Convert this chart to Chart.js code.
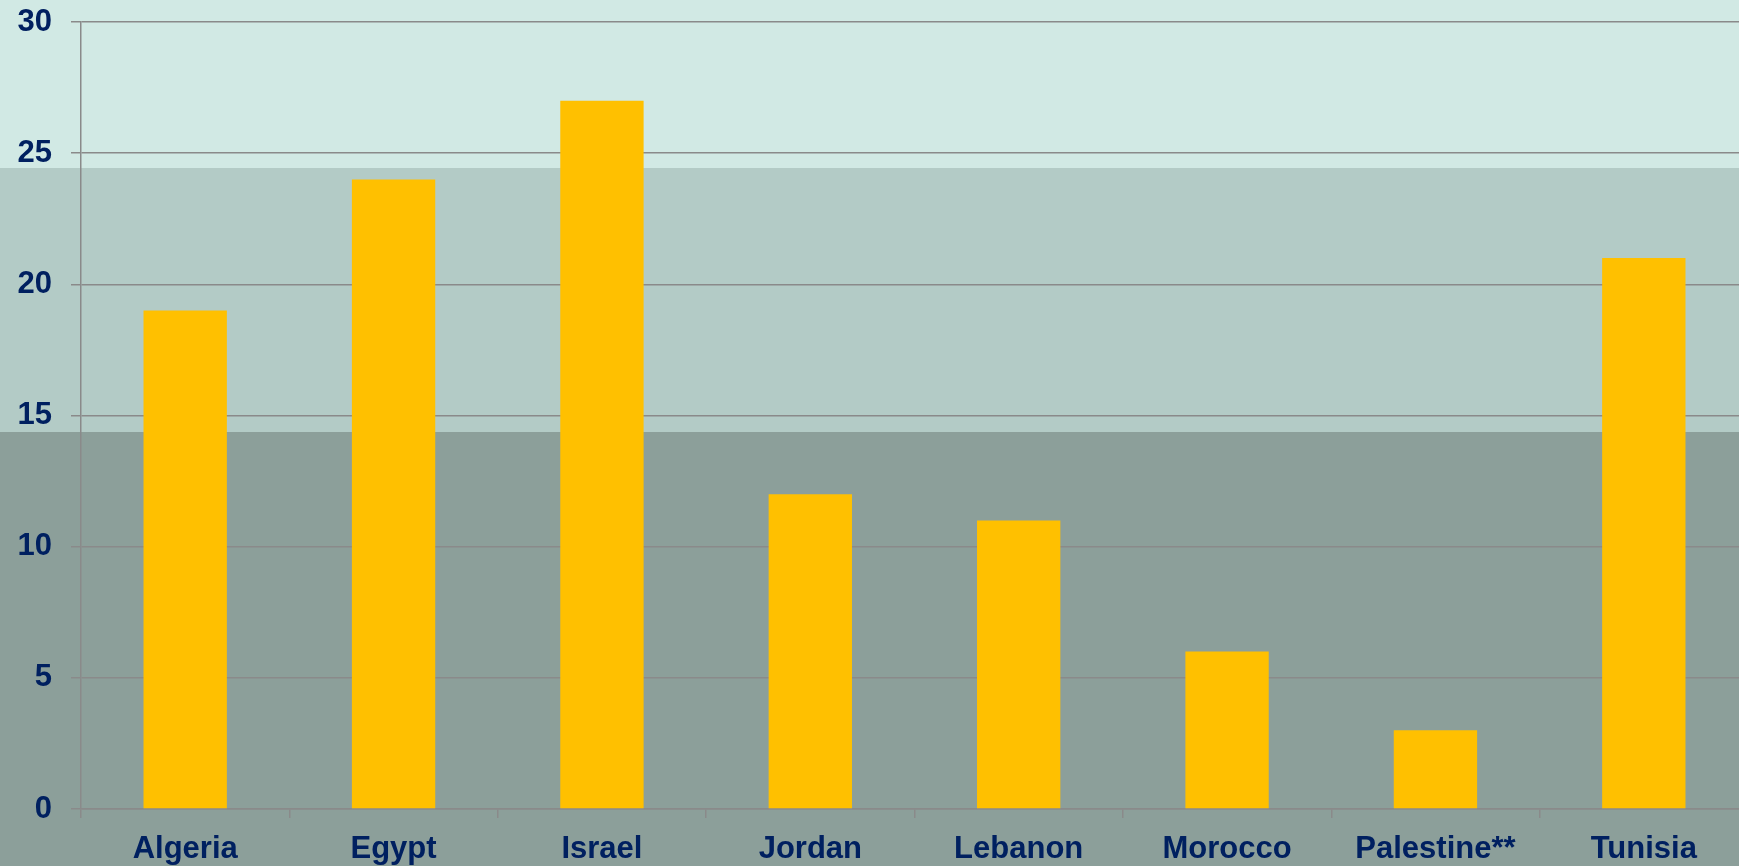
<!DOCTYPE html>
<html>
<head>
<meta charset="utf-8">
<script src="https://cdn.jsdelivr.net/npm/chart.js@4"></script>
<style>
  html, body { margin: 0; padding: 0; overflow: hidden; background: #8c9f9a; }
  canvas { display: block; }
</style>
</head>
<body>
<canvas id="chart" width="1760" height="866" style="width:1760px;height:866px"></canvas>
<script>
'use strict';

// ── Data ──────────────────────────────────────────────────────────────────────
const COUNTRIES = ['Algeria', 'Egypt', 'Israel', 'Jordan', 'Lebanon', 'Morocco', 'Palestine**', 'Tunisia'];
const VALUES = [19, 24, 27, 12, 11, 6, 3, 21];
const Y_TICKS = [0, 5, 10, 15, 20, 25, 30];

const TEXT = '#002060';
const GRID = '#8a8a8a';
const FONT = { family: '"Liberation Sans", Arial, sans-serif', size: 31, weight: 'bold' };

// slide background: three horizontal bands (pixel rows of the canvas)
const BANDS = [
  { from: 0, to: 168, color: '#d1e9e4' },
  { from: 168, to: 432, color: '#b3cbc6' },
  { from: 432, to: 866, color: '#8c9f9a' },
];

const bandPlugin = {
  id: 'bands',
  beforeDraw(chart) {
    const { ctx, width } = chart;
    ctx.save();
    BANDS.forEach(b => {
      ctx.fillStyle = b.color;
      ctx.fillRect(0, b.from, width, b.to - b.from);
    });
    ctx.restore();
  },
};

new Chart(document.getElementById('chart'), {
  type: 'bar',
  data: {
    labels: COUNTRIES,
    datasets: [{
      data: VALUES,
      backgroundColor: '#ffc000',
      borderWidth: 0,
      barPercentage: 0.4,
      categoryPercentage: 1,
    }],
  },
  options: {
    responsive: false,
    animation: false,
    devicePixelRatio: 1,
    layout: { padding: { top: 22, right: 12, left: 0, bottom: 0 } },
    plugins: { legend: { display: false }, tooltip: { enabled: false } },
    scales: {
      x: {
        grid: { drawOnChartArea: false, color: GRID, lineWidth: 1.5, tickLength: 9, offset: true },
        border: { color: GRID, width: 1.5 },
        ticks: { color: TEXT, font: FONT, padding: 13, maxRotation: 0 },
        afterFit(s) { s.height = 57; s.paddingLeft = 0; s.paddingRight = 0; },
      },
      y: {
        min: 0,
        max: 30,
        afterBuildTicks(s) { s.ticks = Y_TICKS.map(v => ({ value: v })); },
        grid: { color: GRID, lineWidth: 1.5, tickLength: 10 },
        border: { color: GRID, width: 1.5 },
        ticks: { color: TEXT, font: FONT, padding: 19 },
        afterFit(s) { s.width = 81; s.paddingTop = 0; s.paddingBottom = 0; },
      },
    },
  },
  plugins: [bandPlugin],
});
</script>
</body>
</html>
